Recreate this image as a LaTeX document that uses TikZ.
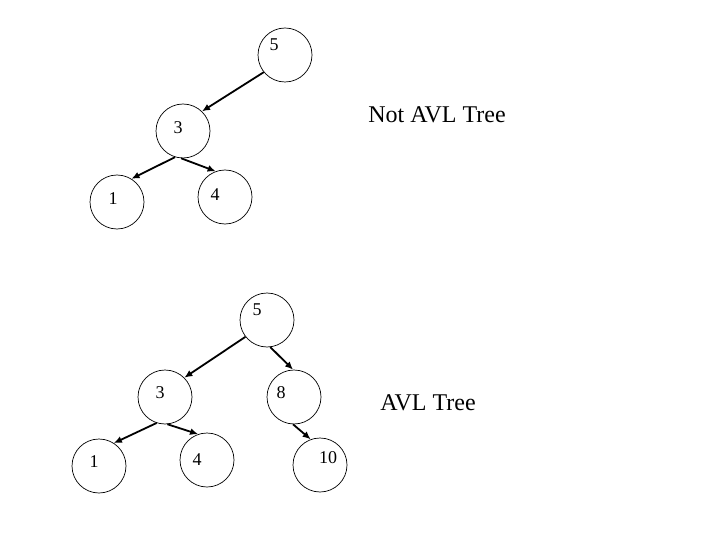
\documentclass[tikz,border=0pt]{standalone}
\usepackage{fontspec}
\setmainfont{Liberation Serif}
\usetikzlibrary{arrows.meta}

\begin{document}
\begin{tikzpicture}[x=1pt,y=-1pt,>={Latex[length=8pt,width=7pt]},
  circ/.style={draw,circle,line width=0.7pt,minimum size=54pt,inner sep=0pt},
  num/.style={font=\fontsize{18}{18}\selectfont},
  edge/.style={->,line width=1.8pt}]
\useasboundingbox (0,0) rectangle (720,540);
% not balanced
\node[circ,label={[num,shift={(-11pt,10pt)}]center:5}] (a5) at (285,55) {};
\node[circ,label={[num,shift={(-5pt,3pt)}]center:3}] (a3) at (183,131) {};
\node[circ,label={[num,shift={(-4pt,3pt)}]center:1}] (a1) at (117,202) {};
\node[circ,label={[num,shift={(-10pt,2pt)}]center:4}] (a4) at (225,197) {};
\draw[edge] (a5.219)--(a3.46);
\draw[edge] (a3.253)--(a1.58);
\draw[edge] (a3.266)--(a4.110);
\node[font=\fontsize{24}{24}\selectfont] (lbla) at (437,115) {Not AVL Tree};
% balanced
\node[circ,label={[num,shift={(-10pt,10pt)}]center:5}] (b5) at (267,320) {};
\node[circ,label={[num,shift={(-5pt,4pt)}]center:3}] (b3) at (165,397) {};
\node[circ,label={[num,shift={(-13pt,4pt)}]center:8}] (b8) at (294,397) {};
\node[circ,label={[num,shift={(-5pt,4pt)}]center:1}] (b1) at (99,466) {};
\node[circ,label={[num,shift={(-10pt,0pt)}]center:4}] (b4) at (207,460) {};
\node[circ,label={[num,shift={(8pt,7pt)}]center:10}] (b10) at (320,465) {};
\draw[edge] (b5.218)--(b3.45);
\draw[edge] (b5.277)--(b8.92);
\draw[edge] (b3.252)--(b1.57);
\draw[edge] (b3.275)--(b4.109);
\draw[edge] (b8.268)--(b10.110);
\node[font=\fontsize{24}{24}\selectfont] (lblb) at (428,403) {AVL Tree};
\end{tikzpicture}
\end{document}
